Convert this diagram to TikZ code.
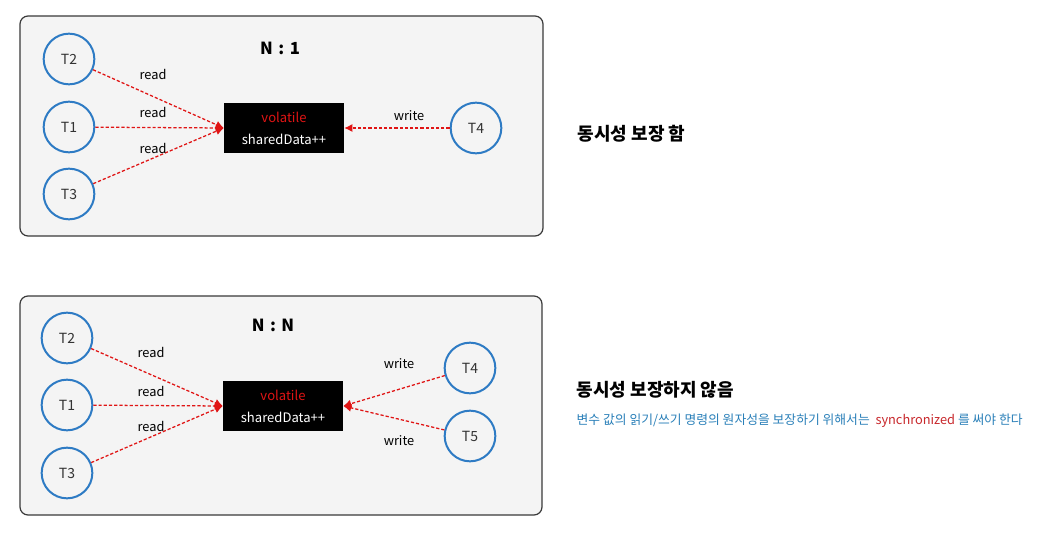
\documentclass[tikz,border=0pt]{standalone}
\usepackage{fontspec}
\setmainfont{Noto Sans CJK KR}
\usetikzlibrary{arrows.meta}
\definecolor{panelgray}{HTML}{F4F4F4}
\definecolor{rimgray}{HTML}{3A3A3A}
\definecolor{threadblue}{HTML}{2E7BC4}
\definecolor{linkred}{HTML}{E01414}
\definecolor{notered}{HTML}{C8282C}
\definecolor{noteblue}{HTML}{2A80B9}

\begin{document}
\begin{tikzpicture}[x=0.75pt,y=-0.75pt,
    panel/.style={draw=rimgray,fill=panelgray,line width=0.9pt,rounded corners=6pt},
    thread/.style={circle,draw=threadblue,line width=1.5pt,minimum size=38pt,inner sep=0pt,
        text=black!80,font=\fontsize{10.5}{12}\selectfont},
    shared/.style={fill=black,minimum width=90pt,minimum height=37.5pt,inner sep=0pt,
        align=center,font=\fontsize{9.8}{16.5}\selectfont},
    access/.style={draw=linkred,dash pattern=on 2.4pt off 1.5pt,line width=0.95pt,
        -{Latex[length=6pt,width=6pt]}},
    tag/.style={font=\fontsize{9.6}{11}\selectfont,text=black},
    ratio/.style={font=\bfseries\fontsize{12.5}{14}\selectfont},
    verdict/.style={anchor=west,font=\bfseries\fontsize{13.5}{16}\selectfont},
    note/.style={anchor=west,font=\fontsize{9.6}{11}\selectfont,text=noteblue}]

    \useasboundingbox[fill=white] (0,0) rectangle (1058,546);

    % N : 1
    \draw[panel] (20,16) rectangle (543,236);
    \node[ratio] (r1) at (280,48) {N\,\,:\,\,1};
    \node[shared] (data1) at (284,128) {\textcolor{linkred}{volatile}\\\textcolor{white}{sharedData++}};
    \node[thread] (a2) at (69,59) {T2};
    \node[thread] (a1) at (69,127) {T1};
    \node[thread] (a3) at (69,194) {T3};
    \node[thread] (a4) at (476,128) {T4};

    \draw[access] (a2) -- (data1.west);
    \draw[access] (a1) -- (data1.west);
    \draw[access] (a3) -- (data1.west);
    \draw[access] (a4) -- (data1.east);

    \node[tag] (ra2) at (153,74) {read};
    \node[tag] (ra1) at (153,112) {read};
    \node[tag] (ra3) at (153,148) {read};
    \node[tag] (wa4) at (409,116) {write};

    \node[verdict] (ok) at (573,134) {동시성 보장 함};

    % N : N
    \draw[panel] (20,296) rectangle (542,515);
    \node[ratio] (r2) at (273,325) {N\,\,:\,\,N};
    \node[shared] (data2) at (283,406) {\textcolor{linkred}{volatile}\\\textcolor{white}{sharedData++}};
    \node[thread] (b2) at (67,338) {T2};
    \node[thread] (b1) at (67,405) {T1};
    \node[thread] (b3) at (67,473) {T3};
    \node[thread] (b4) at (470,368) {T4};
    \node[thread] (b5) at (470,436) {T5};

    \draw[access] (b2) -- (data2.west);
    \draw[access] (b1) -- (data2.west);
    \draw[access] (b3) -- (data2.west);
    \draw[access] (b4) -- (data2.east);
    \draw[access] (b5) -- (data2.east);

    \node[tag] (rb2) at (151,352) {read};
    \node[tag] (rb1) at (151,391) {read};
    \node[tag] (rb3) at (151,426) {read};
    \node[tag] (wb4) at (399,364) {write};
    \node[tag] (wb5) at (399,441) {write};

    \node[verdict] (nok) at (572,390) {동시성 보장하지 않음};
    \node[note] (hint) at (572,421) {변수 값의 읽기/쓰기 명령의 원자성을 보장하기 위해서는\ \ \textcolor{notered}{synchronized} 를 써야 한다};
\end{tikzpicture}
\end{document}
